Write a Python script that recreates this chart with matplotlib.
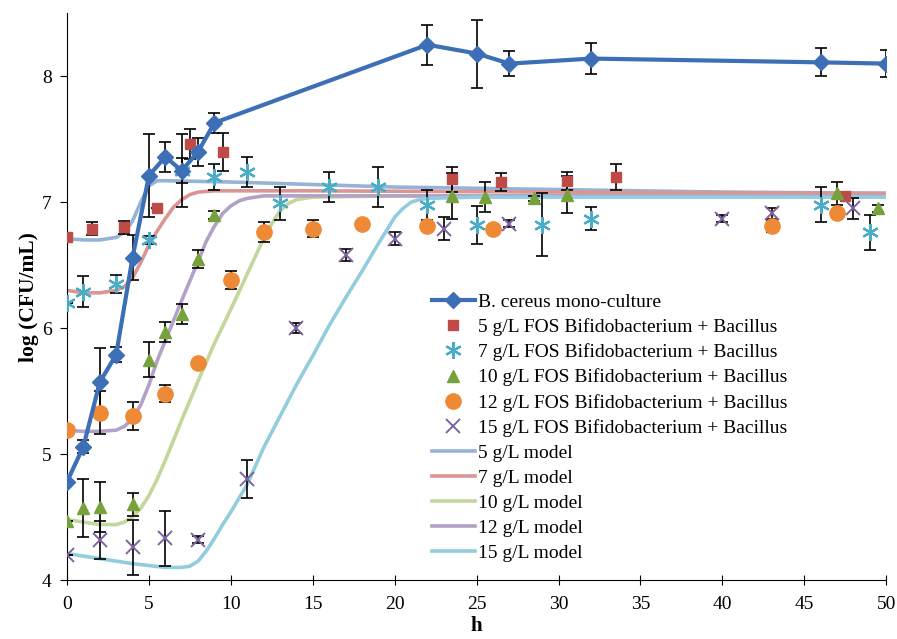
import matplotlib
matplotlib.use('Agg')
import matplotlib.pyplot as plt

# B. cereus mono-culture
bc_x = [0, 1, 2, 3, 4, 5, 6, 7, 8, 9, 22, 25, 27, 32, 46, 50]
bc_y = [4.78, 5.06, 5.57, 5.79, 6.56, 7.21, 7.36, 7.25, 7.40, 7.63, 8.25, 8.18, 8.10, 8.14, 8.11, 8.10]
bc_err = [0, 0.05, 0.27, 0.06, 0.18, 0.33, 0.12, 0.29, 0.11, 0.08, 0.16, 0.27, 0.10, 0.12, 0.11, 0.11]

# co-culture data
fos5_x = [0, 1.5, 3.5, 5.5, 7.5, 9.5, 23.5, 26.5, 30.5, 33.5, 47.5]
fos5_y = [6.72, 6.79, 6.80, 6.95, 7.46, 7.40, 7.18, 7.16, 7.17, 7.20, 7.05]
fos5_err = [0, 0.05, 0.05, 0, 0.12, 0.15, 0.10, 0.07, 0.07, 0.10, 0.02]

fos7_x = [0, 1, 3, 5, 7, 9, 11, 13, 16, 19, 22, 25, 29, 32, 46, 49]
fos7_y = [6.20, 6.29, 6.35, 6.70, 7.25, 7.20, 7.24, 6.99, 7.12, 7.12, 6.98, 6.82, 6.82, 6.87, 6.98, 6.76]
fos7_err = [0, 0.12, 0.07, 0.03, 0.10, 0.10, 0.12, 0.13, 0.12, 0.16, 0.12, 0.15, 0.25, 0.09, 0.14, 0.14]

fos10_x = [0, 1, 2, 4, 5, 6, 7, 8, 9, 23.5, 25.5, 28.5, 30.5, 47, 49.5]
fos10_y = [4.47, 4.57, 4.58, 4.60, 5.75, 5.97, 6.11, 6.55, 6.90, 7.05, 7.04, 7.03, 7.06, 7.07, 6.95]
fos10_err = [0, 0.23, 0.20, 0.09, 0.14, 0.08, 0.08, 0.07, 0.03, 0.18, 0.12, 0.02, 0.15, 0.09, 0.03]

fos12_x = [0, 2, 4, 6, 8, 10, 12, 15, 18, 22, 26, 43, 47]
fos12_y = [5.19, 5.33, 5.30, 5.48, 5.72, 6.38, 6.76, 6.79, 6.83, 6.81, 6.79, 6.81, 6.91]
fos12_err = [0, 0.17, 0.11, 0.07, 0, 0.07, 0.08, 0.07, 0, 0, 0.02, 0.05, 0]

fos15_x = [0, 2, 4, 6, 8, 11, 14, 17, 20, 23, 27, 40, 43, 48]
fos15_y = [4.20, 4.32, 4.26, 4.33, 4.32, 4.80, 6.00, 6.58, 6.71, 6.79, 6.83, 6.87, 6.91, 6.95]
fos15_err = [0, 0.15, 0.22, 0.22, 0.03, 0.15, 0.04, 0.05, 0.05, 0.09, 0.03, 0.03, 0.04, 0.08]

# model curves
m5_x = [0, 1, 2, 3, 3.5, 4, 4.5, 5, 5.5, 6, 10, 15, 20, 30, 40, 50]
m5_y = [6.71, 6.70, 6.70, 6.72, 6.76, 6.85, 7.00, 7.13, 7.17, 7.17, 7.16, 7.14, 7.12, 7.10, 7.08, 7.07]

m7_x = [0, 1, 2, 3, 3.5, 4, 4.5, 5, 5.5, 6, 6.5, 7, 7.5, 8, 9, 15, 30, 50]
m7_y = [6.30, 6.28, 6.28, 6.30, 6.33, 6.40, 6.52, 6.66, 6.77, 6.87, 6.96, 7.02, 7.06, 7.08, 7.09, 7.09, 7.08, 7.07]

m10_x = [0, 1, 2, 3, 3.5, 4, 4.5, 5, 5.5, 6, 7, 8, 9, 10, 11, 12, 12.5, 13, 13.5, 14, 15, 20, 50]
m10_y = [4.48, 4.46, 4.44, 4.44, 4.46, 4.50, 4.57, 4.67, 4.80, 4.95, 5.27, 5.58, 5.88, 6.15, 6.43, 6.71,
         6.83, 6.93, 6.99, 7.02, 7.04, 7.05, 7.05]

m12_x = [0, 1, 2, 3, 3.5, 4, 4.5, 5, 5.5, 6, 7, 8, 8.5, 9, 9.5, 10, 10.5, 11, 12, 50]
m12_y = [5.19, 5.18, 5.18, 5.19, 5.22, 5.28, 5.39, 5.55, 5.74, 5.90, 6.22, 6.53, 6.69, 6.81, 6.91, 6.97,
         7.01, 7.03, 7.05, 7.05]

m15_x = [0, 2, 4, 6, 7, 7.5, 8, 8.5, 9, 9.5, 10, 11, 12, 13, 14, 15, 16, 17, 18, 19, 20, 20.5, 21, 21.5, 22, 25, 50]
m15_y = [4.21, 4.17, 4.13, 4.10, 4.10, 4.11, 4.15, 4.23, 4.33, 4.44, 4.54, 4.76, 5.05, 5.30, 5.55, 5.78,
         6.02, 6.24, 6.45, 6.67, 6.88, 6.95, 7.00, 7.02, 7.03, 7.04, 7.04]

plt.rcParams['font.family'] = ['Liberation Serif', 'DejaVu Serif']

fig = plt.figure(figsize=(8.97, 6.39), dpi=100)
ax = fig.add_axes([0.0747, 0.0923, 0.9133, 0.887])

# modelos
ax.plot(m5_x, m5_y, color='#95B3D7', lw=2.6, label='5 g/L model', zorder=2)
ax.plot(m7_x, m7_y, color='#D99694', lw=2.6, label='7 g/L model', zorder=2)
ax.plot(m10_x, m10_y, color='#C3D69B', lw=2.6, label='10 g/L model', zorder=2)
ax.plot(m12_x, m12_y, color='#B3A2C7', lw=2.6, label='12 g/L model', zorder=2)
ax.plot(m15_x, m15_y, color='#93CDDD', lw=2.6, label='15 g/L model', zorder=2)

# barras de error
ebkw = dict(fmt='none', ecolor='black', elinewidth=1.2, capsize=4, capthick=1.2, zorder=3)
for xs, ys, es in [(bc_x, bc_y, bc_err), (fos5_x, fos5_y, fos5_err), (fos7_x, fos7_y, fos7_err),
                   (fos10_x, fos10_y, fos10_err), (fos12_x, fos12_y, fos12_err), (fos15_x, fos15_y, fos15_err)]:
    ax.errorbar(xs, ys, yerr=es, **ebkw)

ax.plot(bc_x, bc_y, color='#3D6FB6', lw=3, marker='D', ms=8, label='B. cereus mono-culture', zorder=5)
ax.plot(fos5_x, fos5_y, ls='none', marker='s', ms=7, color='#BE4B48',
        label='5 g/L FOS Bifidobacterium + Bacillus', zorder=4)
ax.plot(fos7_x, fos7_y, ls='none', marker=(6, 2, 0), ms=12, mew=1.6, color='#4BACC6',
        label='7 g/L FOS Bifidobacterium + Bacillus', zorder=4)
ax.plot(fos10_x, fos10_y, ls='none', marker='^', ms=8, color='#77A13B',
        label='10 g/L FOS Bifidobacterium + Bacillus', zorder=4)
ax.plot(fos12_x, fos12_y, ls='none', marker='o', ms=11, color='#EE8A35',
        label='12 g/L FOS Bifidobacterium + Bacillus', zorder=4)
ax.plot(fos15_x, fos15_y, ls='none', marker='x', ms=10, mew=1.4, color='#7F63A1',
        label='15 g/L FOS Bifidobacterium + Bacillus', zorder=4)

ax.set_xlim(0, 50)
ax.set_ylim(4, 8.5)
ax.set_xticks(range(0, 51, 5))
ax.set_yticks([4, 5, 6, 7, 8])
ax.spines['top'].set_visible(False)
ax.spines['right'].set_visible(False)
ax.tick_params(axis='y', direction='out', length=5, labelsize=14, pad=6)
ax.tick_params(axis='x', direction='inout', length=7, labelsize=14, pad=8)
ax.set_xlabel('h', fontsize=15, fontweight='bold', labelpad=2)
ax.set_ylabel('log (CFU/mL)', fontsize=15.5, fontweight='bold', labelpad=2)

h, l = ax.get_legend_handles_labels()
order = [5, 6, 7, 8, 9, 10, 0, 1, 2, 3, 4]
ax.legend([h[i] for i in order], [l[i] for i in order], loc='upper left',
          bbox_to_anchor=(0.436, 0.52), frameon=False, fontsize=14,
          handlelength=2.2, handletextpad=0.15, labelspacing=0.38, borderaxespad=0)

plt.savefig('out.png', dpi=100)
